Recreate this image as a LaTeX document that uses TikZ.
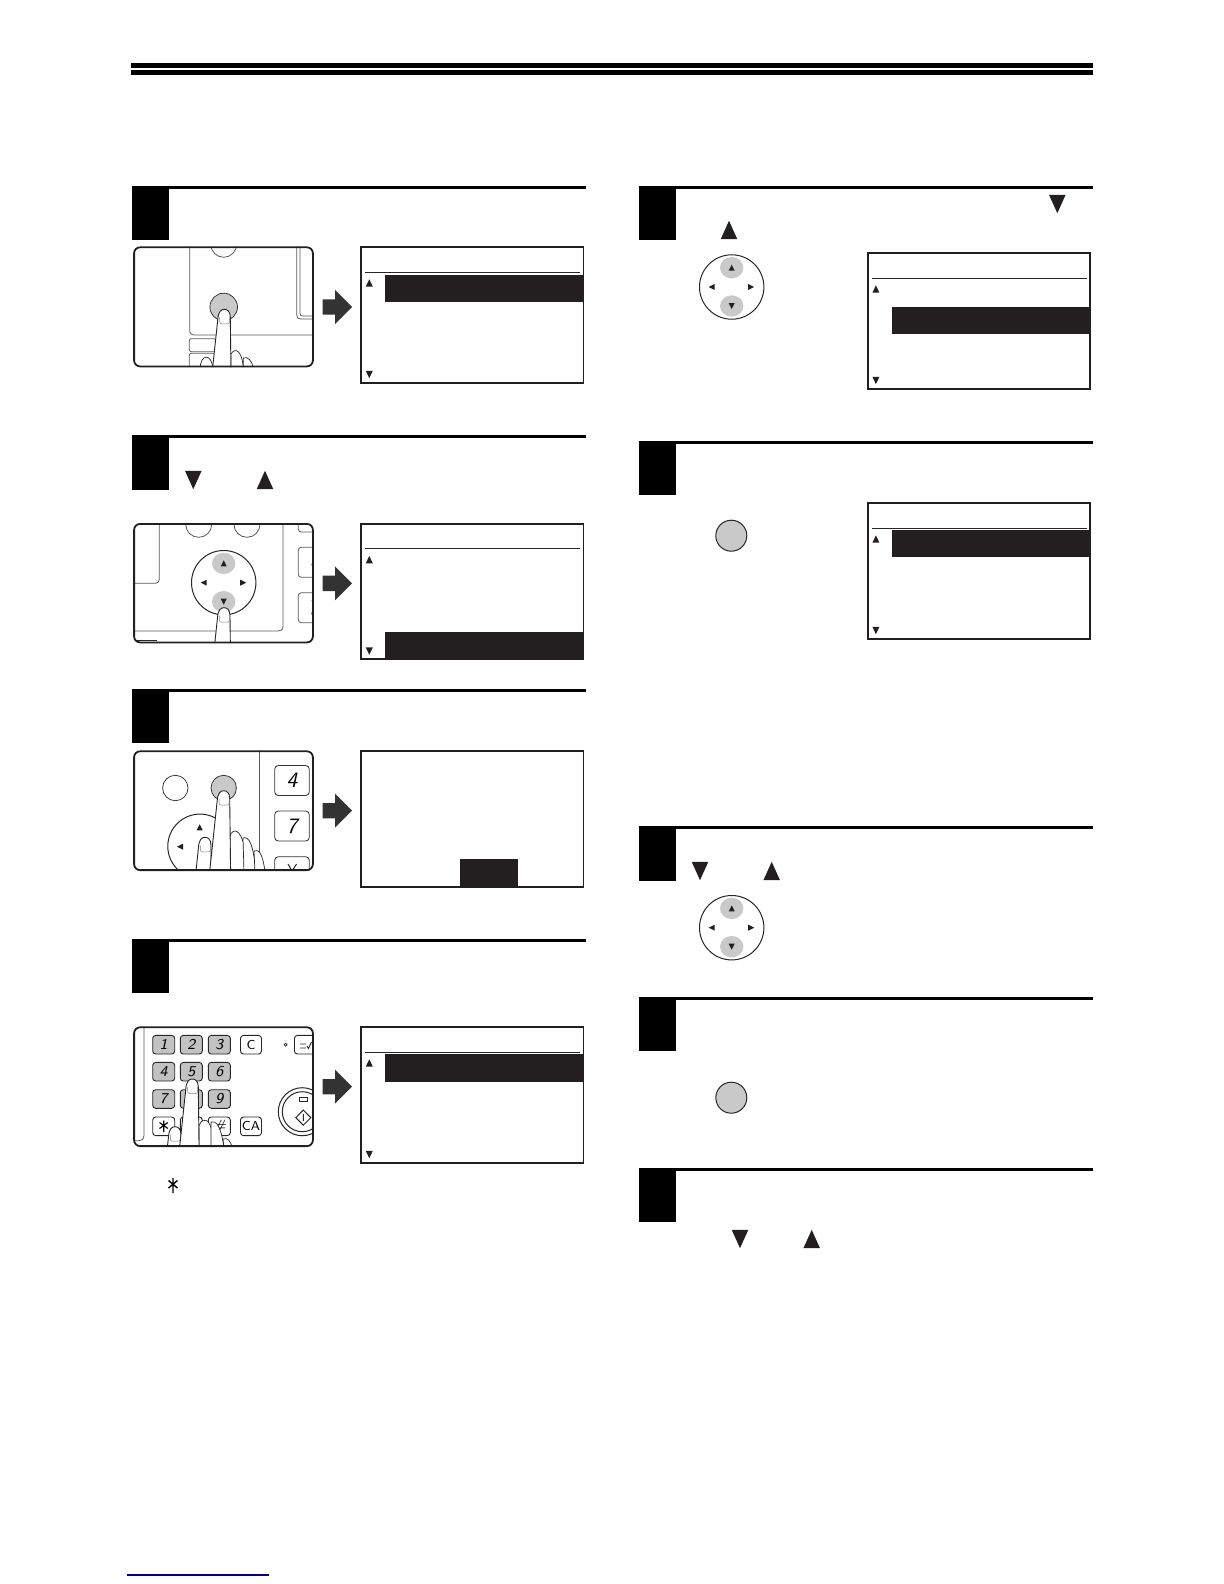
\documentclass[tikz,border=0pt]{standalone}
\usepackage{tikz}
\usetikzlibrary{calc}
\definecolor{barblack}{HTML}{231F20}

\begin{document}
\begin{tikzpicture}[
     x=0.5pt,y=-0.5pt,
     frameline/.style={line width=0.9pt,draw=barblack},
     thinline/.style={line width=0.35pt,draw=black!85},
     softline/.style={line width=0.4pt,draw=black!65},
     lobe/.style={fill=black!21},
     tribig/.style={xscale=8.3,yscale=9.2},
     trismall/.style={xscale=3.5,yscale=3.7},
     tritiny/.style={xscale=3,yscale=3},
     bigkey/.style={rectangle,draw=black!80,line width=0.4pt,rounded corners=1.8pt,
       minimum width=17.3pt,minimum height=15pt,inner sep=0pt,
       font=\fontsize{11}{11}\selectfont\sffamily\itshape},
     padkey/.style={rectangle,draw=black!85,line width=0.45pt,rounded corners=1.5pt,
       minimum width=11pt,minimum height=9.3pt,inner sep=0pt,
       font=\fontsize{7.5}{7.5}\selectfont\sffamily\itshape},
     graykey/.style={padkey,fill=black!24},
     whitekey/.style={padkey,fill=white,minimum width=10.5pt,
       font=\fontsize{6.5}{6.5}\selectfont\sffamily},
     tri/.pic={\fill[barblack] (-1,1) -- (1,1) -- (0,-1) -- cycle;},
     bigarrow/.pic={\fill[black!80] (0,-7.7) -- (12.3,-7.7) -- (12.3,-17) -- (29.3,0)
       -- (12.3,17) -- (12.3,7.7) -- (0,7.7) -- cycle;},
     dpad/.pic={
       \draw[thinline,line width=0.5pt] (0,0) circle[radius=32.2];
       \fill[lobe] (0,-19.3) ellipse[x radius=11.7,y radius=10.7];
       \fill[lobe] (0,19) ellipse[x radius=11.7,y radius=10.7];
       \pic[tritiny] at (0,-19.3) {tri};
       \pic[tritiny,rotate=180] at (0,19) {tri};
       \pic[tritiny,rotate=90] at (-20,0) {tri};
       \pic[tritiny,rotate=-90] at (19.5,0) {tri};
     },
     finger/.pic={
       \draw[line width=0.45pt,draw=black!85,fill=white] (-15,90) -- (-6.5,10)
         .. controls (-6,2) and (-3,0) .. (0,0)
         .. controls (3,0) and (6,2) .. (6,8) -- (7,90);
       \draw[line width=0.25pt,draw=black!50,rounded corners=1pt] (-4.6,8) -- (-4.6,14.5) -- (5.4,14.5) -- (5.4,8);
     }
   ]
   \useasboundingbox (0,0) rectangle (1224,1584);
   % Header bars and link.
   \fill[black] (131,63) rectangle (1093,68);
   \fill[black] (131,70) rectangle (1093,75);
   \draw[line width=0.6pt,draw=blue!55!black] (127,1575) -- (269,1575);
   % Step blocks.
   \foreach \x/\y/\h in {132/186/54,132/435/55,132/689/53.7,132/939/53.7,
       639/186/54,639/441/54,639/826/55,639/997/53.7,639/1168/53.7} {
     \fill[black] (\x,\y) rectangle ++(37,\h);
     \fill[black] (\x,\y) rectangle ++(453.6,3);
   }
   % Triangles in the step texts.
   \foreach \x/\y in {193.3/480,1057.3/204,700/871,740/1239}
     \pic[tribig,rotate=180] at (\x,\y) {tri};
   \foreach \x/\y in {265/480,729/230,771.7/871,811.7/1239}
     \pic[tribig] at (\x,\y) {tri};
   % Screens.
   \foreach \x/\y/\a/\b in {360.7/246.7/28.3/55,360.7/523.3/108.3/136.5,
       360.7/1026.7/27.3/55,867.3/252.7/54.3/81.3,867.3/502.7/27.3/54.3} {
     \fill[barblack] (\x+24.3,\y+\a) rectangle (\x+223,\y+\b);
     \draw[frameline] (\x+0.6,\y+0.6) rectangle ++(222.2,135.3);
     \draw[thinline,line width=0.45pt] (\x+4.5,\y+25.6) -- (\x+219.3,\y+25.6);
     \pic[trismall] at (\x+8.6,\y+36.3) {tri};
     \pic[trismall,rotate=180] at (\x+8.6,\y+127.8) {tri};
   }
   \fill[barblack] (460,859) rectangle (518,887);
   \draw[frameline] (361.3,751.3) rectangle ++(222.2,135.3);
   % Arrows.
   \foreach \y in {307,583.3,810.7,1086.7}
     \pic at (322.7,\y) {bigarrow};
   % Loose keys on the right.
   \pic at (731.7,287) {dpad};
   \pic at (731.7,927.7) {dpad};
   \foreach \y in {535.7,1097.7}
     \draw[thinline,line width=0.5pt,fill=black!21] (731.3,\y) circle[radius=15.5];
   % Panel one.
   \begin{scope}
     \clip[rounded corners=3pt] (133.5,246.7) rectangle (313.5,367);
     \draw[softline] (189.7,246) -- (189.7,330) .. controls (189.7,333.5) and (191,335) .. (195,335) -- (314,335);
     \draw[softline] (296.7,246) -- (296.7,315) .. controls (296.7,318) and (298,319) .. (301,319) -- (314,319);
     \draw[softline] (300,246) -- (300,313) .. controls (300,315.5) and (301,316) .. (303,316) -- (314,316);
     \draw[softline] (223.7,244) ellipse[x radius=13,y radius=13.3];
     \draw[softline,rounded corners=1pt] (189.3,338.7) rectangle (216,351.7);
     \draw[softline,rounded corners=1pt] (189.3,353.3) rectangle (216,370);
     \draw[thinline,fill=black!21] (223.7,307) circle[radius=13.8];
     \draw[thinline,fill=white] (200,368) .. controls (201,354) and (211,353) .. (213,368);
     \draw[thinline,fill=white] (230.7,368) -- (231,354) .. controls (235,347) and (242,350) .. (243.3,368);
     \draw[thinline,fill=white] (243.3,368) -- (243.3,358) .. controls (248,356) and (252,361) .. (253.3,368);
     \pic at (224.3,309.3) {finger};
   \end{scope}
   \draw[frameline,rounded corners=3pt] (134.1,247.3) rectangle (312.9,366.4);
   % Panel two.
   \begin{scope}
     \clip[rounded corners=3pt] (133.5,523.3) rectangle (313.5,643);
     \draw[softline] (159.3,523) -- (159.3,578) .. controls (159.3,582) and (158,583.3) .. (154,583.3) -- (133,583.3);
     \draw[softline] (283,523) -- (283,626) .. controls (283,630) and (281,631) .. (278,631) -- (133,631);
     \draw[softline] (198.7,524.3) ellipse[x radius=13,y radius=13];
     \draw[softline] (247,524.3) ellipse[x radius=13,y radius=13];
     \draw[softline,rounded corners=1.5pt] (298.3,520) rectangle (330,532);
     \draw[softline,rounded corners=1.5pt] (298.3,547.3) rectangle (330,577.3);
     \draw[softline,rounded corners=1.5pt] (298.3,592.7) rectangle (330,622.7);
     \node[inner sep=0pt,font=\fontsize{11}{11}\selectfont\sffamily\itshape] (sidefour) at (315.5,562.3) {4};
     \node[inner sep=0pt,font=\fontsize{11}{11}\selectfont\sffamily\itshape] (sideseven) at (313.5,607.7) {7};
     \draw[thinline,line width=0.6pt] (133,640.7) -- (156.7,640.7);
     \pic at (223.7,582.7) {dpad};
     \pic at (224,607.7) {finger};
   \end{scope}
   \draw[frameline,rounded corners=3pt] (134.1,523.9) rectangle (312.9,642.4);
   % Panel three.
   \begin{scope}
     \clip[rounded corners=3pt] (133.5,750.7) rectangle (313.5,870.7);
     \draw[softline] (259.3,750) -- (259.3,871);
     \node[bigkey] (keyfour) at (292,780.5) {4};
     \node[bigkey] (keyseven) at (292,826) {7};
     \node[bigkey] (keystar) at (292,871.7) {};
     \draw[thinline,line width=0.5pt] (288,864) -- (292,871) -- (296.5,864) (292,871) -- (292,875);
     \draw[thinline] (175.3,788) circle[radius=12.7];
     \draw[thinline,fill=black!21] (223.7,788) circle[radius=12.7];
     \draw[thinline,line width=0.5pt] (200,846.3) circle[radius=32.2];
     \pic[tritiny] at (199.7,827.3) {tri};
     \pic[tritiny,rotate=90] at (180,846.7) {tri};
     \draw[thinline,fill=white] (230,872) -- (230,836) .. controls (233,827) and (241,830) .. (244,846) -- (245,872);
     \draw[thinline,fill=white] (244,872) -- (243,838) .. controls (249,836) and (253,843) .. (256,872);
     \draw[thinline,fill=white] (255,872) -- (254,851) .. controls (259,848) and (263,855) .. (265,872);
     \pic at (205,837.3) {finger};
     \pic at (223.7,790.7) {finger};
   \end{scope}
   \draw[frameline,rounded corners=3pt] (134.1,751.3) rectangle (312.9,870.1);
   % Panel four.
   \begin{scope}
     \clip[rounded corners=3pt] (133.5,1026.7) rectangle (313.5,1146.7);
     \draw[softline] (144,1026) -- (144,1136) .. controls (144,1139) and (142,1140.7) .. (139,1140.7) -- (133,1140.7);
     \foreach \d/\x/\y in {1/163.7/1044.7,2/191.3/1044.7,3/219.3/1044.7,
         4/163.7/1071.7,5/191.3/1071.7,6/219.3/1071.7,
         7/163.7/1099,8/191.3/1099,9/219.3/1099}
       \node[graykey] (key\d) at (\x,\y) {\d};
     \node[padkey,fill=white] (keyast) at (163.7,1126.3) {};
     \draw[line width=0.55pt] (163.7,1120.5) -- (163.7,1132) (159.5,1122.5) -- (167.9,1128.5) (167.9,1122.5) -- (159.5,1128.5);
     \node[padkey,fill=white] (keyzero) at (191.3,1126.3) {};
     \node[padkey,fill=white] (keyhash) at (219.3,1126.3) {\#};
     \node[whitekey] (keyc) at (251,1044.7) {C};
     \node[whitekey] (keyca) at (251,1126.3) {CA};
     \draw[thinline] (285.7,1044.7) circle[radius=1.5];
     \node[whitekey,anchor=west,minimum width=14pt] (keyset) at (294,1044.7) {};
     \draw[thinline,line width=0.45pt] (300,1044) -- (306,1044) (300,1048) -- (306,1048) (307,1046) -- (308.5,1048.5) -- (311.5,1042);
     \draw[thinline,line width=0.5pt,fill=white] (302.3,1111.7) circle[radius=24];
     \draw[thinline,line width=0.5pt] (302.3,1111.7) circle[radius=20];
     \draw[thinline] (299.3,1097.3) rectangle (307.7,1101.7);
     \draw[thinline,line width=0.5pt] (303.3,1110) -- (310.8,1117.7) -- (303.3,1125.2) -- (295.8,1117.7) -- cycle (303.3,1114) -- (303.3,1121);
     \draw[thinline,fill=white] (199,1148) -- (199,1126) .. controls (202,1117) and (209,1118) .. (211.7,1130) -- (212,1148);
     \draw[thinline,fill=white] (211,1148) -- (211,1122) .. controls (216,1120) and (221,1126) .. (224,1148);
     \draw[thinline,fill=white] (224,1148) -- (223,1139) .. controls (228,1137) and (231,1142) .. (232.3,1148);
     \pic at (175,1126.7) {finger};
     \pic at (192.3,1079) {finger};
   \end{scope}
   \draw[frameline,rounded corners=3pt] (134.1,1027.3) rectangle (312.9,1146.1);
   % Star under panel four.
   \draw[line width=0.7pt] (173,1178) -- (173,1193) (168.5,1180.5) -- (177.5,1188) (177.5,1180.5) -- (168.5,1188);
\end{tikzpicture}
\end{document}
